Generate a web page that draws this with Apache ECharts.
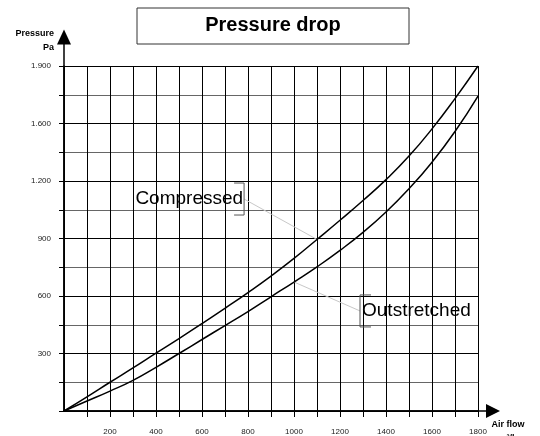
<!DOCTYPE html>
<html><head><meta charset="utf-8">
<script src="https://cdn.jsdelivr.net/npm/echarts@6/dist/echarts.min.js"></script>
<style>html,body{margin:0;padding:0;background:#fff}#c{width:540px;height:436px}</style>
</head><body><div id="c"></div>
<script>
// ---- data ----
const airFlow = [0,100,200,300,400,500,600,700,800,900,1000,1100,1200,1300,1400,1500,1600,1700,1800];
const compressed = [0,74,150,225,302,378,456,536,618,704,796,895,995,1098,1207,1330,1472,1630,1800];
const outstretched = [0,52,104,160,228,300,373,446,519,596,673,752,838,932,1038,1160,1298,1458,1643];
const xTickValues = [200,400,600,800,1000,1200,1400,1600,1800];
const xTickLabels = ['200','400','600','800','1000','1200','1400','1600','1800'];
const yTickValues = [300,600,900,1200,1500,1800];
const yTickLabels = ['300','600','900','1.200','1.600','1.900'];
const seriesNames = ['Compressed','Outstretched'];
// label anchors (data coords) and the curve point each leader points to (index into airFlow)
const compressedLabelAt = [783, 1106];
const outstretchedLabelAt = [1287, 522];
const compressedPointIdx = 11;
const outstretchedPointIdx = 10;

const FONT = 'Liberation Sans, Arial, sans-serif';
const chart = echarts.init(document.getElementById('c'), null, {renderer:'canvas'});

function fmt(vals, labels){ return v => { const i = vals.indexOf(v); return i >= 0 ? labels[i] : ''; }; }

const option = {
  animation: false,
  backgroundColor: '#fff',
  title: {
    text: 'Pressure drop', left: 273, top: 15, textAlign: 'center', padding: 0,
    textStyle: {fontFamily: FONT, fontSize: 20, fontWeight: 'bold', color: '#000'}
  },
  grid: [
    {left: 64, right: 62, top: 66, bottom: 25, outerBoundsMode: 'none', containLabel: false},
    {left: 64, right: 47, top: 37, bottom: 25, outerBoundsMode: 'none', containLabel: false}
  ],
  xAxis: [
    {gridIndex: 0, type: 'value', min: 0, max: 1800, interval: 100,
     axisLine: {show: true, lineStyle: {color: '#000', width: 1.5}},
     axisTick: {show: true, length: 6, lineStyle: {color: '#000', width: 1}},
     axisLabel: {formatter: fmt(xTickValues, xTickLabels), margin: 17, fontSize: 8, color: '#222', fontFamily: FONT, showMinLabel: false},
     splitLine: {show: true, lineStyle: {color: '#000', width: 1}}},
    {gridIndex: 1, type: 'value', min: 0, max: 1,
     axisLine: {show: true, symbol: ['none','triangle'], symbolSize: [14,14], lineStyle: {color: '#000', width: 1.5}},
     axisTick: {show: false}, axisLabel: {show: false}, splitLine: {show: false},
     name: 'Air flow\nm³/h', nameLocation: 'end', nameGap: 15, nameMoveOverlap: false,
     nameTextStyle: {fontFamily: FONT, fontSize: 9, fontWeight: 'bold', color: '#000', align: 'center', verticalAlign: 'top', lineHeight: 14, padding: [7,0,0,0]}}
  ],
  yAxis: [
    {gridIndex: 0, type: 'value', min: 0, max: 1800, interval: 150,
     axisLine: {show: true, lineStyle: {color: '#000', width: 1.5}},
     axisTick: {show: true, length: 5, lineStyle: {color: '#000', width: 1}},
     axisLabel: {formatter: fmt(yTickValues, yTickLabels), margin: 13, fontSize: 8, color: '#222', fontFamily: FONT},
     splitLine: {show: true, lineStyle: {color: ['#000', '#666'], width: 1}}},
    {gridIndex: 1, type: 'value', min: 0, max: 1,
     axisLine: {show: true, symbol: ['none','triangle'], symbolSize: [14,15], lineStyle: {color: '#000', width: 1.5}},
     axisTick: {show: false}, axisLabel: {show: false}, splitLine: {show: false},
     name: 'Pressure\nPa', nameLocation: 'end', nameGap: 10, nameMoveOverlap: false,
     nameTextStyle: {fontFamily: FONT, fontSize: 9, fontWeight: 'bold', color: '#000', align: 'right', verticalAlign: 'top', lineHeight: 14, padding: [0,10,0,0]}}
  ],
  series: [
    {name: seriesNames[0], type: 'line', xAxisIndex: 0, yAxisIndex: 0, smooth: 0.5, showSymbol: false,
     data: airFlow.map((x,i) => [x, compressed[i]]), lineStyle: {color: '#000', width: 1.5}, z: 5,
     markLine: {silent: true, symbol: ['none','none'], label: {show: false}, lineStyle: {color: '#c8c8c8', width: 1, type: 'solid'},
       data: [[{coord: [airFlow[compressedPointIdx], compressed[compressedPointIdx]]}, {coord: compressedLabelAt}]]}},
    {name: seriesNames[1], type: 'line', xAxisIndex: 0, yAxisIndex: 0, smooth: 0.5, showSymbol: false,
     data: airFlow.map((x,i) => [x, outstretched[i]]), lineStyle: {color: '#000', width: 1.5}, z: 5,
     markLine: {silent: true, symbol: ['none','none'], label: {show: false}, lineStyle: {color: '#c8c8c8', width: 1, type: 'solid'},
       data: [[{coord: [airFlow[outstretchedPointIdx], outstretched[outstretchedPointIdx]]}, {coord: outstretchedLabelAt}]]}}
  ]
};
chart.setOption(option);

const pc = chart.convertToPixel({gridIndex: 0}, compressedLabelAt);
const po = chart.convertToPixel({gridIndex: 0}, outstretchedLabelAt);
chart.setOption({
  graphic: [
    {type: 'rect', shape: {x: 137, y: 8, width: 272, height: 36}, style: {fill: 'none', stroke: '#333', lineWidth: 1}, z: 10},
    {type: 'text', x: pc[0] - 1, y: pc[1], style: {text: seriesNames[0], font: '19px ' + FONT, fill: '#000', align: 'right', verticalAlign: 'middle'}, z: 10},
    {type: 'polyline', shape: {points: [[pc[0]-10, pc[1]-16],[pc[0], pc[1]-16],[pc[0], pc[1]+16],[pc[0]-10, pc[1]+16]]}, style: {stroke: '#555', lineWidth: 1, fill: 'none'}, z: 10},
    {type: 'text', x: po[0] + 2, y: po[1], style: {text: seriesNames[1], font: '19px ' + FONT, fill: '#000', align: 'left', verticalAlign: 'middle'}, z: 10},
    {type: 'polyline', shape: {points: [[po[0]+11, po[1]-16],[po[0], po[1]-16],[po[0], po[1]+16],[po[0]+11, po[1]+16]]}, style: {stroke: '#555', lineWidth: 1, fill: 'none'}, z: 10}
  ]
});
</script></body></html>
